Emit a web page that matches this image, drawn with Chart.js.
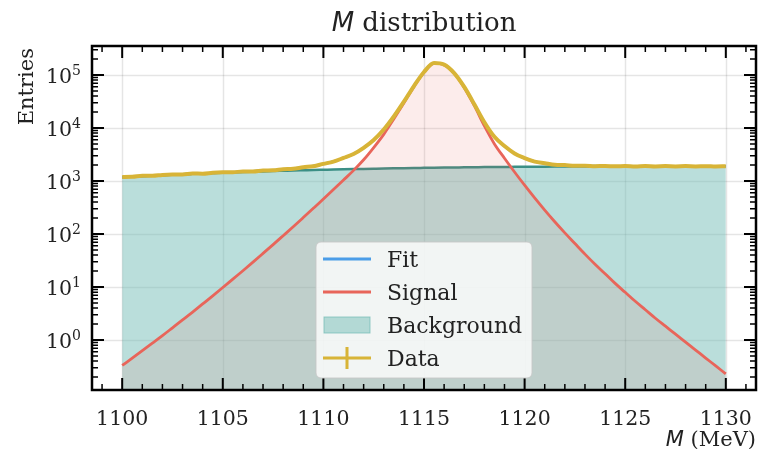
<!DOCTYPE html>
<html>
<head>
<meta charset="utf-8">
<script src="https://cdn.jsdelivr.net/npm/chart.js@4.4.1/dist/chart.umd.min.js"></script>
<style>
  html, body { margin: 0; padding: 0; background: #fff; }
  #wrap { width: 759px; height: 449px; }
</style>
</head>
<body>
<div id="wrap"><canvas id="massChart" width="759" height="449"></canvas></div>
<script>
// bin centres (MeV)
var massMeV = [1100, 1100.5, 1101, 1101.5, 1102, 1102.5, 1103, 1103.5, 1104, 1104.5,
  1105, 1105.5, 1106, 1106.5, 1107, 1107.5, 1108, 1108.5, 1109, 1109.5,
  1110, 1110.5, 1111, 1111.5, 1112, 1112.5, 1113, 1113.5, 1114, 1114.5,
  1115, 1115.5, 1116, 1116.5, 1117, 1117.5, 1118, 1118.5, 1119, 1119.5,
  1120, 1120.5, 1121, 1121.5, 1122, 1122.5, 1123, 1123.5, 1124, 1124.5,
  1125, 1125.5, 1126, 1126.5, 1127, 1127.5, 1128, 1128.5, 1129, 1129.5, 1130];

var signal = [0.331, 0.455, 0.628, 0.871, 1.21, 1.70, 2.39, 3.37, 4.79, 6.82,
  9.77, 14.1, 20.3, 29.5, 43.1, 63.1, 92.9, 137, 204, 305,
  457, 689, 1042, 1585, 2512, 4270, 7590, 14800, 29500, 60300,
  112000, 166000, 155000, 107000, 57500, 26300, 10960, 5010, 2690, 1479,
  832, 479, 282, 170, 105, 66.1, 41.7, 26.9, 17.8, 11.7,
  7.94, 5.37, 3.72, 2.57, 1.82, 1.29, 0.912, 0.646, 0.457, 0.324, 0.229];

var background = [1180, 1210, 1235, 1262, 1288, 1313, 1338, 1362, 1386, 1409,
  1432, 1454, 1476, 1497, 1518, 1538, 1557, 1576, 1594, 1612,
  1629, 1646, 1662, 1677, 1692, 1706, 1720, 1733, 1746, 1758,
  1769, 1780, 1791, 1801, 1810, 1819, 1827, 1835, 1842, 1849,
  1855, 1861, 1866, 1871, 1875, 1879, 1882, 1885, 1888, 1890,
  1892, 1893, 1894, 1895, 1895, 1895, 1895, 1894, 1893, 1892, 1890];

var dataCounts = [1194, 1197, 1251, 1250, 1302, 1327, 1329, 1380, 1375, 1430,
  1456, 1458, 1513, 1510, 1578, 1592, 1669, 1698, 1815, 1901,
  2104, 2318, 2728, 3240, 4232, 5950, 9350, 16480, 31300, 61900,
  113900, 167500, 157100, 108600, 59450, 28050, 12830, 6810, 4560, 3310,
  2705, 2322, 2166, 2025, 1996, 1931, 1940, 1897, 1921, 1889,
  1915, 1885, 1913, 1886, 1910, 1883, 1908, 1884, 1906, 1878, 1899];

var xTicks = [1100, 1105, 1110, 1115, 1120, 1125, 1130];
var yDecades = [0, 1, 2, 3, 4, 5];
var legendLabels = ['Fit', 'Signal', 'Background', 'Data'];

var RED = '#e8655a', BLUE = '#4b9de8', TEAL = '#3b8f85', GOLD = '#d8b437';
var TEAL_FILL = 'rgba(111,186,179,0.48)';
var SERIF = '"DejaVu Serif", serif';
var MATH = '"DejaVu Sans", sans-serif';

function pts(ys) {
  return massMeV.map(function (x, i) { return { x: x, y: ys[i] }; });
}
var fit = signal.map(function (s, i) { return s + background[i]; });

function drawParts(ctx, parts, x, y, align) {
  var w = 0;
  parts.forEach(function (p) { ctx.font = p.font; w += ctx.measureText(p.text).width; });
  var cx = align === 'right' ? x - w : align === 'center' ? x - w / 2 : x;
  ctx.textAlign = 'left';
  ctx.textBaseline = 'alphabetic';
  parts.forEach(function (p) {
    ctx.font = p.font;
    ctx.fillText(p.text, cx, y + (p.dy || 0));
    cx += ctx.measureText(p.text).width;
  });
}

var hepStyle = {
  id: 'hepStyle',
  beforeDatasetsDraw: function (chart) {
    var ctx = chart.ctx, a = chart.chartArea;
    var xs = chart.scales.x, ys = chart.scales.y;
    ctx.save();
    ctx.strokeStyle = 'rgba(0,0,0,0.1)';
    ctx.lineWidth = 1.5;
    xTicks.forEach(function (t) {
      var px = Math.round(xs.getPixelForValue(t)) + 0.5;
      ctx.beginPath(); ctx.moveTo(px, a.top); ctx.lineTo(px, a.bottom); ctx.stroke();
    });
    yDecades.forEach(function (d) {
      var py = Math.round(ys.getPixelForValue(Math.pow(10, d))) + 0.5;
      ctx.beginPath(); ctx.moveTo(a.left, py); ctx.lineTo(a.right, py); ctx.stroke();
    });
    ctx.restore();
  },
  afterDatasetsDraw: function (chart) {
    var ctx = chart.ctx, a = chart.chartArea;
    var xs = chart.scales.x, ys = chart.scales.y;
    ctx.save();
    ctx.strokeStyle = '#000';

    // ticks, inward on all four sides
    function xTick(v, len, lw) {
      var px = xs.getPixelForValue(v);
      ctx.lineWidth = lw;
      ctx.beginPath();
      ctx.moveTo(px, a.bottom); ctx.lineTo(px, a.bottom - len);
      ctx.moveTo(px, a.top); ctx.lineTo(px, a.top + len);
      ctx.stroke();
    }
    function yTick(v, len, lw) {
      var py = ys.getPixelForValue(v);
      ctx.lineWidth = lw;
      ctx.beginPath();
      ctx.moveTo(a.left, py); ctx.lineTo(a.left + len, py);
      ctx.moveTo(a.right, py); ctx.lineTo(a.right - len, py);
      ctx.stroke();
    }
    for (var m = 1099; m <= 1131; m++) {
      if (m % 5 === 0) xTick(m, 12, 2); else xTick(m, 6, 1.5);
    }
    for (var d = -1; d <= 5; d++) {
      for (var k = 1; k <= 9; k++) {
        var v = k * Math.pow(10, d);
        if (v < ys.min || v > ys.max) continue;
        if (k === 1) yTick(v, 12, 2); else yTick(v, 6, 1.5);
      }
    }

    // frame
    ctx.lineWidth = 2.5;
    ctx.strokeRect(a.left, a.top, a.right - a.left, a.bottom - a.top);

    // tick labels
    ctx.fillStyle = '#222';
    xTicks.forEach(function (t) {
      drawParts(ctx, [{ text: String(t), font: '20.5px ' + SERIF }], xs.getPixelForValue(t), 425, 'center');
    });
    yDecades.forEach(function (d) {
      var py = ys.getPixelForValue(Math.pow(10, d));
      drawParts(ctx, [
        { text: '10', font: '20.5px ' + SERIF, dy: 8 },
        { text: String(d), font: '14px ' + SERIF, dy: 0 }
      ], 81, py, 'right');
    });

    // axis labels and title
    drawParts(ctx, [
      { text: 'M', font: 'italic 21px ' + MATH },
      { text: ' (MeV)', font: '21px ' + SERIF }
    ], a.right, 446, 'right');
    drawParts(ctx, [
      { text: 'M', font: 'italic 26px ' + MATH },
      { text: ' distribution', font: '26px ' + SERIF }
    ], (a.left + a.right) / 2, 31, 'center');
    ctx.save();
    ctx.translate(33, a.top + 2);
    ctx.rotate(-Math.PI / 2);
    drawParts(ctx, [{ text: 'Entries', font: '21px ' + SERIF }], 0, 0, 'right');
    ctx.restore();

    // legend
    var lx = 316, ly = 242, lw = 216, lh = 136;
    ctx.fillStyle = 'rgba(255,255,255,0.8)';
    ctx.strokeStyle = 'rgba(200,200,200,0.9)';
    ctx.lineWidth = 1;
    ctx.beginPath();
    ctx.roundRect(lx, ly, lw, lh, 5);
    ctx.fill(); ctx.stroke();
    var rows = [259, 292, 325, 358];
    ctx.lineWidth = 3;
    ctx.strokeStyle = BLUE;
    ctx.beginPath(); ctx.moveTo(323, rows[0]); ctx.lineTo(371, rows[0]); ctx.stroke();
    ctx.strokeStyle = RED;
    ctx.beginPath(); ctx.moveTo(323, rows[1]); ctx.lineTo(371, rows[1]); ctx.stroke();
    ctx.fillStyle = TEAL_FILL;
    ctx.fillRect(324, rows[2] - 8, 46, 16);
    ctx.strokeStyle = 'rgba(111,186,179,0.7)';
    ctx.lineWidth = 1;
    ctx.strokeRect(324, rows[2] - 8, 46, 16);
    ctx.strokeStyle = GOLD;
    ctx.lineWidth = 3;
    ctx.beginPath();
    ctx.moveTo(323, rows[3]); ctx.lineTo(371, rows[3]);
    ctx.moveTo(347, rows[3] - 11); ctx.lineTo(347, rows[3] + 11);
    ctx.stroke();
    ctx.fillStyle = '#222';
    legendLabels.forEach(function (lab, i) {
      drawParts(ctx, [{ text: lab, font: '22px ' + SERIF }], 387, rows[i] + 8, 'left');
    });
    ctx.restore();
  }
};

new Chart(document.getElementById('massChart'), {
  type: 'line',
  data: {
    datasets: [
      { label: 'Data', data: pts(dataCounts), borderColor: GOLD, borderWidth: 4,
        pointRadius: 0, fill: false, cubicInterpolationMode: 'monotone' },
      { label: 'Fit', data: pts(fit), borderColor: BLUE, borderWidth: 2.5,
        pointRadius: 0, fill: false, cubicInterpolationMode: 'monotone' },
      { label: 'Signal', data: pts(signal), borderColor: RED, borderWidth: 2.8,
        backgroundColor: 'rgba(232,101,90,0.12)', pointRadius: 0, fill: 'start',
        cubicInterpolationMode: 'monotone' },
      { label: 'Background', data: pts(background), borderColor: TEAL, borderWidth: 2.5,
        backgroundColor: TEAL_FILL, pointRadius: 0, fill: 'start',
        cubicInterpolationMode: 'monotone' }
    ]
  },
  options: {
    responsive: false,
    animation: false,
    devicePixelRatio: 1,
    layout: { padding: { left: 92, right: 3, top: 46, bottom: 59 } },
    scales: {
      x: { type: 'linear', min: 1098.5, max: 1131.5, display: false },
      y: { type: 'logarithmic', min: 0.114, max: 352000, display: false }
    },
    plugins: {
      legend: { display: false },
      title: { display: false },
      tooltip: { enabled: false }
    }
  },
  plugins: [hepStyle]
});
</script>
</body>
</html>
